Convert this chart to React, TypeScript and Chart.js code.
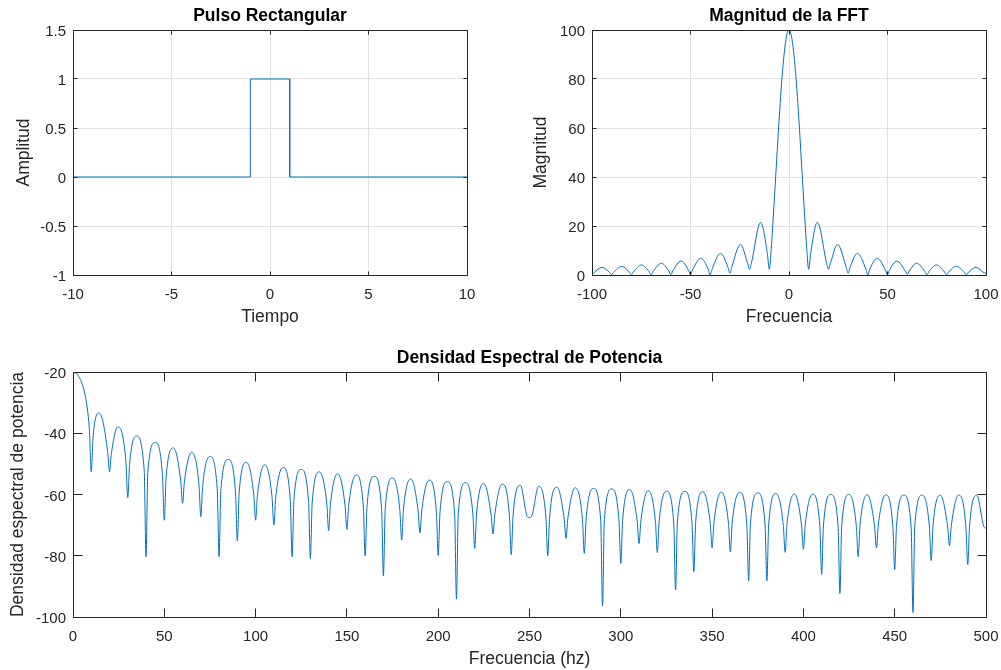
import React, { useEffect, useRef } from 'react';
import { Chart, registerables } from 'chart.js';

Chart.register(...registerables);

const FONT = "'Liberation Sans', Arial, Helvetica, sans-serif";
const LINE_COLOR = '#0072BD';
const AXIS_COLOR = '#262626';
const GRID_COLOR = '#e1e1e1';

// ---------- Pulso rectangular ----------
const pulseTime = [-10, -1, -1, 1, 1, 10];
const pulseAmp = [0, 0, 1, 1, 0, 0];

// ---------- Magnitud de la FFT ----------
const fftMainHz = [-9, -8, -7, -6, -5, -4, -3, -2, -1, 0, 1, 2, 3, 4, 5, 6, 7, 8, 9];
const fftMainMag = [10.9, 23.4, 36.8, 50.5, 63.7, 75.7, 85.8, 93.5, 98.4, 100, 98.4, 93.5, 85.8, 75.7, 63.7, 50.5, 36.8, 23.4, 10.9];
const fftNullHz = [10, 20, 30, 40, 50, 60, 70, 80, 90, 100];
const fftNullMagPos = [2.3, 2.3, 0.7, 0.05, 0.1, 0.3, 0.1, 0.1, 0.1, 0.7];
const fftNullMagNeg = [2.3, 2.3, 0.7, 0.05, 0.1, 0.1, 0.1, 0.1, 0.1, 0.1];
const fftPeakHz = [14.4, 24.6, 34.7, 44.8, 54.8, 64.8, 74.9, 84.9, 94.9];
const fftPeakMagPos = [21.5, 12.5, 8.8, 6.8, 5.7, 4.8, 4.1, 3.6, 3.1];
const fftPeakMagNeg = [21.5, 12.5, 8.8, 6.8, 5.7, 4.8, 4.1, 3.5, 3.1];
const fftRiseMag = [8.8, 4.7, 3.2, 2.4, 1.95, 1.6, 1.35, 1.15, 1.0];
const fftFallMag = [5.2, 3.4, 2.5, 2.0, 1.65, 1.4, 1.2, 1.05, 0.95];

// ---------- Densidad espectral de potencia (dB) ----------
const psdMainHz = [0, 2, 4, 6, 7, 8, 9];
const psdMainDb = [-20, -20.6, -22.4, -25.9, -28.7, -32.6, -39.2];
const psdNullHz = [
  10, 20, 30, 40, 50, 60, 70, 80, 90, 100, 110, 120, 130, 140, 150, 160, 170, 180, 190, 200,
  210, 220, 230, 240, 250, 260, 270, 280, 290, 300, 310, 320, 330, 340, 350, 360, 370, 380, 390, 400,
  410, 420, 430, 440, 450, 460, 470, 480, 490,
];
const psdNullDb = [
  -52.6, -52.6, -61.0, -80.3, -68.4, -62.9, -67.3, -80.3, -75.2, -68.4, -70.0, -80.3, -80.9, -71.8, -71.4, -80.0, -86.5, -74.9, -72.5, -79.9,
  -94.1, -77.6, -72.9, -79.6, -67.5, -80.1, -74.3, -79.2, -96.3, -82.5, -76.0, -79.0, -91.2, -85.2, -77.4, -78.7, -88.2, -88.2, -78.9, -77.9,
  -86.1, -92.3, -80.3, -77.4, -84.5, -98.5, -81.6, -76.7, -82.9,
];
const psdPeakHz = [
  14.3, 24.6, 34.7, 45, 55, 65, 75, 85, 95, 105, 115, 125, 135, 145, 155, 165, 175, 185, 195, 205,
  215, 225, 235, 245, 255, 265, 275, 285, 295, 305, 315, 325, 335, 345, 355, 365, 375, 385, 395, 405,
  415, 425, 435, 445, 455, 465, 475, 485, 495,
];
const psdPeakDb = [
  -33.3, -37.9, -40.9, -43.0, -44.8, -46.2, -47.6, -48.6, -49.5, -50.3, -51.2, -51.8, -52.6, -53.2, -53.6, -54.1, -54.6, -54.9, -55.3, -55.8,
  -56.1, -56.4, -56.6, -57.0, -57.3, -57.6, -57.8, -58.0, -58.2, -58.4, -58.7, -58.9, -59.0, -59.1, -59.2, -59.3, -59.5, -59.7, -59.8, -59.9,
  -60.0, -60.0, -60.1, -60.1, -60.2, -60.2, -60.2, -60.2, -60.3,
];
const psdRiseDb = [
  -41.2, -46.7, -50.1, -52.4, -54.3, -55.9, -57.3, -58.4, -59.3, -60.2, -61.1, -61.7, -62.5, -63.1, -63.5, -64.0, -64.5, -64.8, -65.2, -65.7,
  -66.1, -66.4, -66.6, -67.0, -67.3, -67.6, -67.8, -68.0, -68.2, -68.4, -68.7, -68.9, -69.0, -69.1, -69.2, -69.3, -69.5, -69.7, -69.8, -69.9,
  -70.0, -70.0, -70.1, -70.1, -70.2, -70.2, -70.2, -70.2, -70.3,
];
const psdFallDb = [
  -46.0, -49.5, -52.1, -53.9, -55.6, -56.9, -58.3, -59.2, -60.1, -60.8, -61.7, -62.3, -63.1, -63.7, -64.1, -64.6, -65.1, -65.4, -65.8, -66.3,
  -66.5, -66.8, -67.0, -67.4, -67.7, -68.0, -68.2, -68.4, -68.6, -68.8, -69.1, -69.3, -69.4, -69.5, -69.6, -69.7, -69.9, -70.1, -70.2, -70.3,
  -70.4, -70.4, -70.5, -70.5, -70.6, -70.6, -70.6, -70.6, -70.7,
];
const psdEndHz = 500;
const psdEndDb = -71;

type Pt = { x: number; y: number };

function buildPulse(): Pt[] {
  return pulseTime.map((t, i) => ({ x: t, y: pulseAmp[i] }));
}

function buildFft(): Pt[] {
  const pts: Pt[] = [];
  for (let k = fftPeakHz.length - 1; k >= 0; k--) {
    pts.push({ x: -fftNullHz[k + 1], y: fftNullMagNeg[k + 1] });
    pts.push({ x: -(fftNullHz[k + 1] - 1), y: fftFallMag[k] });
    pts.push({ x: -fftPeakHz[k], y: fftPeakMagNeg[k] });
    pts.push({ x: -(fftNullHz[k] + 1), y: fftRiseMag[k] });
  }
  pts.push({ x: -fftNullHz[0], y: fftNullMagNeg[0] });
  fftMainHz.forEach((f, i) => pts.push({ x: f, y: fftMainMag[i] }));
  pts.push({ x: fftNullHz[0], y: fftNullMagPos[0] });
  for (let k = 0; k < fftPeakHz.length; k++) {
    pts.push({ x: fftNullHz[k] + 1, y: fftRiseMag[k] });
    pts.push({ x: fftPeakHz[k], y: fftPeakMagPos[k] });
    pts.push({ x: fftNullHz[k + 1] - 1, y: fftFallMag[k] });
    pts.push({ x: fftNullHz[k + 1], y: fftNullMagPos[k + 1] });
  }
  return pts;
}

function buildPsd(): Pt[] {
  const pts: Pt[] = [];
  psdMainHz.forEach((f, i) => pts.push({ x: f, y: psdMainDb[i] }));
  for (let k = 0; k < psdNullHz.length; k++) {
    const next = k + 1 < psdNullHz.length ? psdNullHz[k + 1] : psdEndHz;
    pts.push({ x: psdNullHz[k], y: psdNullDb[k] });
    pts.push({ x: psdNullHz[k] + 1, y: psdRiseDb[k] });
    pts.push({ x: psdPeakHz[k], y: psdPeakDb[k] });
    pts.push({ x: next - 1, y: psdFallDb[k] });
  }
  pts.push({ x: psdEndHz, y: psdEndDb });
  return pts;
}

const boxPlugin = {
  id: 'matlabBox',
  afterDraw(chart: any, _args: any, opts: any) {
    const { ctx, chartArea: a, scales } = chart;
    const len = opts.tickLength ?? 4;
    const L = Math.floor(a.left) + 0.5;
    const R = Math.floor(a.right) + 0.5;
    const T = Math.floor(a.top) + 0.5;
    const B = Math.floor(a.bottom) + 0.5;
    ctx.save();
    ctx.strokeStyle = AXIS_COLOR;
    ctx.lineWidth = 1;
    ctx.beginPath();
    for (const t of scales.x.ticks) {
      const p = Math.floor(scales.x.getPixelForValue(t.value)) + 0.5;
      ctx.moveTo(p, B);
      ctx.lineTo(p, B - len);
      ctx.moveTo(p, T);
      ctx.lineTo(p, T + len);
    }
    for (const t of scales.y.ticks) {
      const p = Math.floor(scales.y.getPixelForValue(t.value)) + 0.5;
      ctx.moveTo(L, p);
      ctx.lineTo(L + len, p);
      ctx.moveTo(R, p);
      ctx.lineTo(R - len, p);
    }
    ctx.rect(L, T, R - L, B - T);
    ctx.stroke();
    ctx.restore();
  },
};

type Opts = {
  points: Pt[];
  monotone: boolean;
  title: string;
  xTitle: string;
  yTitle: string;
  xMin: number;
  xMax: number;
  xStep: number;
  yMin: number;
  yMax: number;
  yStep: number;
  yAxisWidth: number;
  xAxisHeight: number;
  padRight: number;
  titlePadTop: number;
  titlePadBottom: number;
  xTitlePadBottom: number;
  yTitlePadTop: number;
  grid: boolean;
  tickLength: number;
};

const fmt = (v: any) => String(Math.round(Number(v) * 1000) / 1000);

function makeConfig(o: Opts): any {
  const tickFont = { family: FONT, size: 15 };
  const labelFont = { family: FONT, size: 17.5 };
  return {
    type: 'line',
    data: {
      datasets: [
        {
          data: o.points,
          borderColor: LINE_COLOR,
          borderWidth: 1,
          pointRadius: 0,
          fill: false,
          tension: 0,
          cubicInterpolationMode: o.monotone ? 'monotone' : 'default',
        },
      ],
    },
    options: {
      responsive: false,
      animation: false,
      devicePixelRatio: 1,
      events: [],
      layout: { padding: { left: 0, right: o.padRight, top: 0, bottom: 0 } },
      plugins: {
        legend: { display: false },
        tooltip: { enabled: false },
        title: {
          display: true,
          text: o.title,
          color: '#000000',
          fullSize: false,
          font: { family: FONT, size: 17.5, weight: 'bold' },
          padding: { top: o.titlePadTop, bottom: o.titlePadBottom },
        },
        matlabBox: { tickLength: o.tickLength },
      },
      scales: {
        x: {
          type: 'linear',
          min: o.xMin,
          max: o.xMax,
          afterFit: (s: any) => {
            s.height = o.xAxisHeight;
            s.paddingLeft = 0;
            s.paddingRight = 0;
          },
          ticks: {
            stepSize: o.xStep,
            autoSkip: false,
            maxRotation: 0,
            padding: 11,
            color: AXIS_COLOR,
            font: tickFont,
            callback: fmt,
          },
          grid: { display: o.grid, color: GRID_COLOR, lineWidth: 1, drawTicks: false },
          border: { display: false },
          title: {
            display: true,
            text: o.xTitle,
            color: AXIS_COLOR,
            font: labelFont,
            padding: { top: 0, bottom: o.xTitlePadBottom },
          },
        },
        y: {
          type: 'linear',
          min: o.yMin,
          max: o.yMax,
          afterFit: (s: any) => {
            s.width = o.yAxisWidth;
            s.paddingTop = 0;
            s.paddingBottom = 0;
          },
          ticks: {
            stepSize: o.yStep,
            autoSkip: false,
            padding: 7,
            labelOffset: 2,
            color: AXIS_COLOR,
            font: tickFont,
            callback: fmt,
          },
          grid: { display: o.grid, color: GRID_COLOR, lineWidth: 1, drawTicks: false },
          border: { display: false },
          title: {
            display: true,
            text: o.yTitle,
            color: AXIS_COLOR,
            font: labelFont,
            padding: { top: o.yTitlePadTop, bottom: 0 },
          },
        },
      },
    },
    plugins: [boxPlugin],
  };
}

function Subplot(props: { left: number; top: number; width: number; height: number; config: any }) {
  const ref = useRef<HTMLCanvasElement>(null);
  useEffect(() => {
    if (!ref.current) return;
    const chart = new Chart(ref.current, props.config);
    return () => chart.destroy();
  }, []);
  return (
    <canvas
      ref={ref}
      width={props.width}
      height={props.height}
      style={{ position: 'absolute', left: props.left, top: props.top, width: props.width, height: props.height }}
    />
  );
}

export default function App() {
  Chart.defaults.font.family = FONT;

  const pulseCfg = makeConfig({
    points: buildPulse(),
    monotone: false,
    title: 'Pulso Rectangular',
    xTitle: 'Tiempo',
    yTitle: 'Amplitud',
    xMin: -10,
    xMax: 10,
    xStep: 5,
    yMin: -1,
    yMax: 1.5,
    yStep: 0.5,
    yAxisWidth: 73,
    xAxisHeight: 60,
    padRight: 33,
    titlePadTop: 6,
    titlePadBottom: 3,
    xTitlePadBottom: 7,
    yTitlePadTop: 13.5,
    grid: true,
    tickLength: 4,
  });

  const fftCfg = makeConfig({
    points: buildFft(),
    monotone: true,
    title: 'Magnitud de la FFT',
    xTitle: 'Frecuencia',
    yTitle: 'Magnitud',
    xMin: -100,
    xMax: 100,
    xStep: 50,
    yMin: 0,
    yMax: 100,
    yStep: 20,
    yAxisWidth: 92,
    xAxisHeight: 60,
    padRight: 15,
    titlePadTop: 6,
    titlePadBottom: 3,
    xTitlePadBottom: 7,
    yTitlePadTop: 31,
    grid: true,
    tickLength: 4,
  });

  const psdCfg = makeConfig({
    points: buildPsd(),
    monotone: true,
    title: 'Densidad Espectral de Potencia',
    xTitle: 'Frecuencia (hz)',
    yTitle: 'Densidad espectral de potencia',
    xMin: 0,
    xMax: 500,
    xStep: 50,
    yMin: -100,
    yMax: -20,
    yStep: 20,
    yAxisWidth: 73,
    xAxisHeight: 53,
    padRight: 15,
    titlePadTop: 12.5,
    titlePadBottom: 3.5,
    xTitlePadBottom: 0,
    yTitlePadTop: 8,
    grid: false,
    tickLength: 9,
  });

  return (
    <div style={{ position: 'absolute', left: 0, top: 0, width: 1001, height: 670, background: '#ffffff', overflow: 'hidden' }}>
      <Subplot left={0} top={0} width={500} height={335} config={pulseCfg} />
      <Subplot left={500} top={0} width={501} height={335} config={fftCfg} />
      <Subplot left={0} top={335} width={1001} height={335} config={psdCfg} />
    </div>
  );
}
